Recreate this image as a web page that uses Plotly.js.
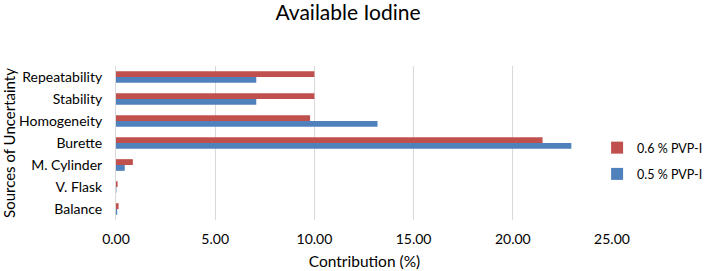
<!DOCTYPE html>
<html>
<head>
<meta charset="utf-8">
<script src="https://cdn.plot.ly/plotly-3.0.1.min.js"></script>
<style>html,body{margin:0;padding:0;background:#fff;}#chart{width:705px;height:271px;}</style>
</head>
<body>
<div id="chart"></div>
<script>
const categories = ["Balance", "V. Flask", "M. Cylinder", "Burette", "Homogeneity", "Stability", "Repeatability"];
const pvp05 = [0.06, 0.02, 0.44, 22.95, 13.18, 7.07, 7.07];
const pvp06 = [0.13, 0.08, 0.85, 21.50, 9.78, 10.00, 10.00];
const xTicks = [0, 5, 10, 15, 20, 25];

const font = "Lato, 'Open Sans', sans-serif";
const data = [
  {type: 'bar', orientation: 'h', name: '0.5 % PVP-I', legendgroup: 'b', legendrank: 2, y: categories, x: pvp05,
   marker: {color: '#4F81BD'}},
  {type: 'bar', orientation: 'h', name: '0.6 % PVP-I', legendgroup: 'a', legendrank: 1, y: categories, x: pvp06,
   marker: {color: '#C0504D'}}
];
const layout = {
  width: 705, height: 271,
  margin: {l: 116, r: 92, t: 66, b: 51, autoexpand: false},
  paper_bgcolor: '#fff', plot_bgcolor: '#fff',
  font: {family: font, color: '#000', size: 14},
  title: {text: 'Available Iodine', x: 0.4936, xref: 'container', xanchor: 'center',
          y: 0.954, yref: 'container', yanchor: 'middle', font: {size: 21, color: '#000', family: font}},
  barmode: 'group', bargap: 0.47, bargroupgap: 0,
  xaxis: {range: [0, 25.05], tickvals: xTicks, tickformat: '.2f', showgrid: true, gridcolor: '#D9D9D9',
          zeroline: false, showline: false, ticks: '', ticklabelstandoff: 9, fixedrange: true,
          title: {text: 'Contribution (%)', font: {size: 15.5, color: '#000'}, standoff: 10},
          tickfont: {size: 14, color: '#000'}},
  yaxis: {showgrid: false, zeroline: false, showline: true, linecolor: '#D9D9D9', linewidth: 1,
          ticks: '', ticklabelstandoff: 10, tickfont: {size: 14, color: '#000'},
          title: {text: 'Sources of Uncertainty', font: {size: 15, color: '#000'}, standoff: 6}},
  legend: {x: 0.968, xanchor: 'left', y: 0.383, yanchor: 'middle', traceorder: 'grouped',
           font: {size: 12.5, color: '#000'}, itemwidth: 30, tracegroupgap: 7, bgcolor: 'rgba(0,0,0,0)'},
  showlegend: true
};
Plotly.newPlot('chart', data, layout, {displayModeBar: false, staticPlot: true});
</script>
</body>
</html>
